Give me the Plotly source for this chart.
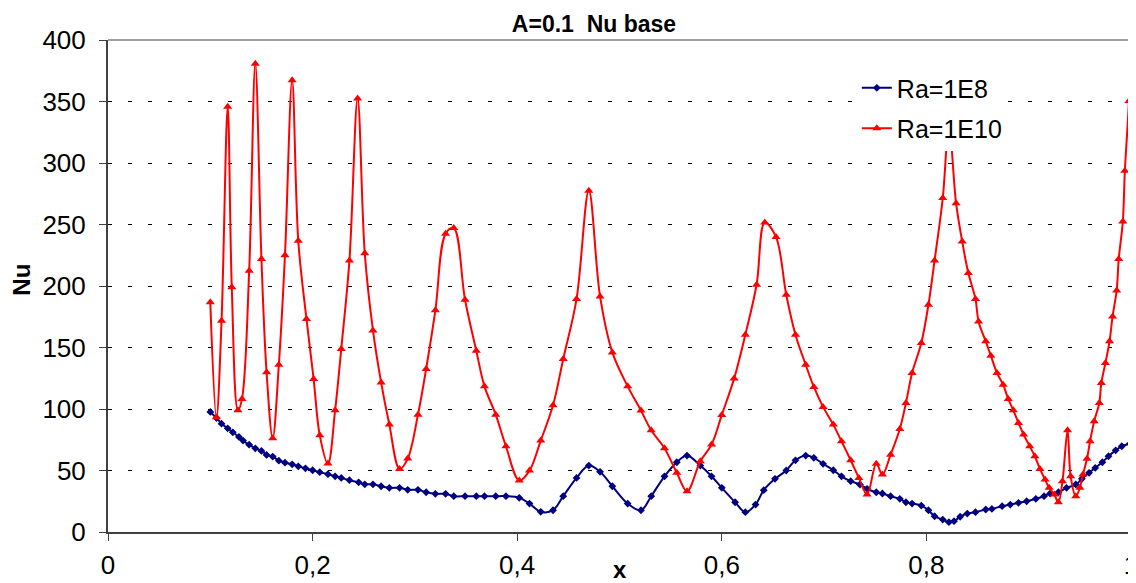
import plotly.graph_objects as go

# ---- data ----
x_ra8 = [0.100, 0.106, 0.111, 0.117, 0.122, 0.128, 0.132, 0.138, 0.144, 0.150,
         0.155, 0.161, 0.167, 0.173, 0.180, 0.186, 0.193, 0.200, 0.207, 0.215,
         0.222, 0.228, 0.236, 0.245, 0.251, 0.259, 0.267, 0.275, 0.285, 0.293,
         0.303, 0.311, 0.320, 0.330, 0.338, 0.349, 0.360, 0.368, 0.379, 0.389,
         0.402, 0.412, 0.423, 0.435, 0.445, 0.458, 0.470, 0.481, 0.493, 0.508,
         0.521, 0.531, 0.544, 0.556, 0.566, 0.579, 0.590, 0.600, 0.613, 0.623,
         0.633, 0.641, 0.652, 0.663, 0.672, 0.682, 0.690, 0.699, 0.709, 0.717,
         0.726, 0.735, 0.742, 0.751, 0.757, 0.765, 0.774, 0.780, 0.786, 0.795,
         0.802, 0.808, 0.816, 0.822, 0.827, 0.833, 0.840, 0.848, 0.858, 0.864,
         0.874, 0.882, 0.890, 0.898, 0.907, 0.915, 0.921, 0.929, 0.937, 0.946,
         0.952, 0.959, 0.965, 0.972, 0.978, 0.985, 0.991, 0.999]
nu_ra8 = [97.6, 92.7, 88.1, 84.3, 81.0, 77.3, 74.3, 71.0, 68.0, 65.9,
          62.7, 61.3, 58.0, 56.4, 55.0, 53.4, 51.8, 50.2, 48.6, 47.0,
          45.3, 44.0, 42.1, 40.4, 38.8, 38.8, 37.2, 35.9, 35.9, 34.3,
          34.3, 32.3, 31.0, 31.0, 29.1, 29.1, 29.1, 29.1, 29.1, 29.1,
          27.8, 23.1, 16.4, 17.7, 29.1, 44.0, 54.0, 48.9, 37.2, 23.1,
          17.7, 29.1, 45.3, 56.7, 62.1, 54.0, 45.3, 35.9, 24.2, 16.1,
          22.3, 34.0, 43.2, 50.0, 58.3, 62.1, 60.3, 55.4, 50.2, 45.3,
          41.3, 38.6, 35.1, 32.3, 31.3, 29.1, 27.0, 24.2, 23.1, 21.5,
          17.7, 12.8, 10.1, 8.0, 8.8, 12.4, 15.0, 16.1, 18.3, 18.8,
          21.0, 22.3, 23.7, 25.0, 27.0, 29.1, 31.3, 32.3, 35.9, 38.6,
          43.2, 48.1, 52.1, 56.7, 61.6, 66.4, 69.7, 71.9]

x_ra10 = [0.100, 0.106, 0.111, 0.117, 0.121, 0.127, 0.131, 0.138, 0.144, 0.150,
          0.155, 0.161, 0.167, 0.173, 0.180, 0.186, 0.194, 0.201, 0.207, 0.215,
          0.222, 0.228, 0.236, 0.244, 0.251, 0.259, 0.267, 0.275, 0.285, 0.293,
          0.303, 0.311, 0.320, 0.330, 0.338, 0.349, 0.360, 0.368, 0.379, 0.389,
          0.402, 0.412, 0.423, 0.435, 0.445, 0.458, 0.470, 0.481, 0.493, 0.508,
          0.521, 0.531, 0.544, 0.556, 0.566, 0.579, 0.590, 0.600, 0.612, 0.623,
          0.634, 0.642, 0.653, 0.663, 0.672, 0.682, 0.690, 0.699, 0.709, 0.717,
          0.726, 0.734, 0.742, 0.751, 0.757, 0.765, 0.774, 0.780, 0.786, 0.795,
          0.802, 0.808, 0.816, 0.822, 0.829, 0.835, 0.841, 0.848, 0.851, 0.858,
          0.863, 0.869, 0.875, 0.880, 0.885, 0.890, 0.895, 0.901, 0.906, 0.911,
          0.916, 0.920, 0.925, 0.929, 0.933, 0.938, 0.941, 0.946, 0.950, 0.953,
          0.957, 0.960, 0.964, 0.969, 0.971, 0.975, 0.979, 0.982, 0.986, 0.988,
          0.992, 0.994, 0.998, 1.000]
nu_ra10 = [186.7, 93.2, 171.8, 345.8, 199.0, 98.9, 108.2, 212.4, 380.6, 221.9,
           129.8, 76.2, 136.0, 225.1, 367.2, 236.7, 173.2, 124.4, 78.6, 55.6,
           98.9, 148.8, 220.7, 352.5, 226.7, 163.9, 121.5, 87.3, 51.3, 59.7,
           95.4, 132.5, 180.2, 242.5, 247.1, 188.8, 147.4, 118.4, 95.4, 69.7,
           41.8, 49.9, 74.3, 103.0, 140.7, 189.4, 277.4, 191.5, 146.0, 118.4,
           98.7, 82.7, 68.1, 48.1, 33.1, 57.5, 71.1, 95.2, 124.7, 160.4,
           201.0, 251.6, 239.8, 192.9, 160.4, 136.0, 117.9, 101.7, 87.3, 73.8,
           58.3, 44.0, 30.5, 55.4, 46.7, 62.9, 83.8, 104.9, 129.3, 153.7,
           184.8, 220.8, 271.5, 330.0, 267.3, 236.1, 210.5, 189.4, 171.2, 155.0,
           143.3, 129.3, 119.8, 108.2, 98.9, 88.7, 79.2, 69.7, 61.6, 51.3,
           42.6, 35.9, 30.5, 24.2, 41.3, 82.7, 45.3, 29.1, 35.9, 46.7,
           59.5, 73.8, 90.0, 104.9, 121.2, 137.4, 155.0, 175.3, 196.4, 221.9,
           252.4, 293.6, 350.4, 405.0]

x_tickvals = [0, 0.2, 0.4, 0.6, 0.8, 1.0]
x_ticktext = ["0", "0,2", "0,4", "0,6", "0,8", "1"]
y_tickvals = [0, 50, 100, 150, 200, 250, 300, 350, 400]

FONT = "Liberation Sans, Arial, sans-serif"

fig = go.Figure()
fig.add_trace(go.Scatter(
    x=x_ra8, y=nu_ra8, name="Ra=1E8", mode="lines+markers",
    legendgroup="a",
    line=dict(color="#000080", width=2, shape="spline", smoothing=1.0),
    marker=dict(symbol="diamond", size=6, color="#000080"),
))
fig.add_trace(go.Scatter(
    x=x_ra10, y=nu_ra10, name="Ra=1E10", mode="lines+markers",
    legendgroup="b",
    line=dict(color="#FF0000", width=2, shape="spline", smoothing=1.0),
    marker=dict(symbol="triangle-up", size=8, color="#FF0000"),
))

# the page body has an 8px margin, so the figure is sized to fit inside the window
fig.update_layout(
    width=1128, height=575,
    margin=dict(l=100, r=5, t=32, b=50.5),
    plot_bgcolor="white", paper_bgcolor="white",
    font=dict(family=FONT, size=26, color="black"),
    title=dict(text="<b>A=0.1\u00a0 Nu base</b>", x=586 / 1128, xref="container",
               xanchor="center", y=1 - 15.5 / 575, yref="container", yanchor="middle",
               font=dict(family=FONT, size=23, color="black")),
    showlegend=True,
    legend=dict(x=0.732, y=0.949, xanchor="left", yanchor="top",
                bgcolor="white", borderwidth=0, traceorder="grouped",
                tracegroupgap=5, font=dict(family=FONT, size=25, color="black")),
    xaxis=dict(range=[0, 1], tickvals=x_tickvals, ticktext=x_ticktext,
               showgrid=False, zeroline=False, showline=True, automargin=False,
               linecolor="#404040", linewidth=2, ticks="outside", ticklen=7,
               tickcolor="#404040", tickwidth=1, ticklabelstandoff=2,
               ticklabeloverflow="allow",
               tickfont=dict(family=FONT, size=26, color="black")),
    yaxis=dict(range=[0, 400], tickvals=y_tickvals, showgrid=True,
               gridcolor="black", gridwidth=1, griddash="4px,16px", automargin=False,
               zeroline=False, showline=True, linecolor="#404040", linewidth=2,
               ticks="outside", ticklen=7, tickcolor="#404040", tickwidth=1,
               ticklabelstandoff=8,
               tickfont=dict(family=FONT, size=26, color="black")),
    shapes=[
        dict(type="line", xref="paper", yref="paper", x0=0, x1=1, y0=1, y1=1,
             line=dict(color="#A0A0A0", width=2), layer="below"),
        dict(type="line", xref="paper", yref="paper", x0=1, x1=1, y0=0, y1=1,
             line=dict(color="#A0A0A0", width=2), layer="below"),
    ],
    annotations=[
        dict(text="<b>x</b>", xref="paper", yref="paper", x=0.5, y=-0.076,
             xanchor="center", yanchor="middle", showarrow=False,
             font=dict(family=FONT, size=24, color="black")),
        dict(text="<b>Nu</b>", xref="paper", yref="paper", x=-0.084, y=0.513,
             xanchor="center", yanchor="middle", showarrow=False, textangle=-90,
             font=dict(family=FONT, size=24, color="black")),
    ],
)

fig.write_html("out.html")
